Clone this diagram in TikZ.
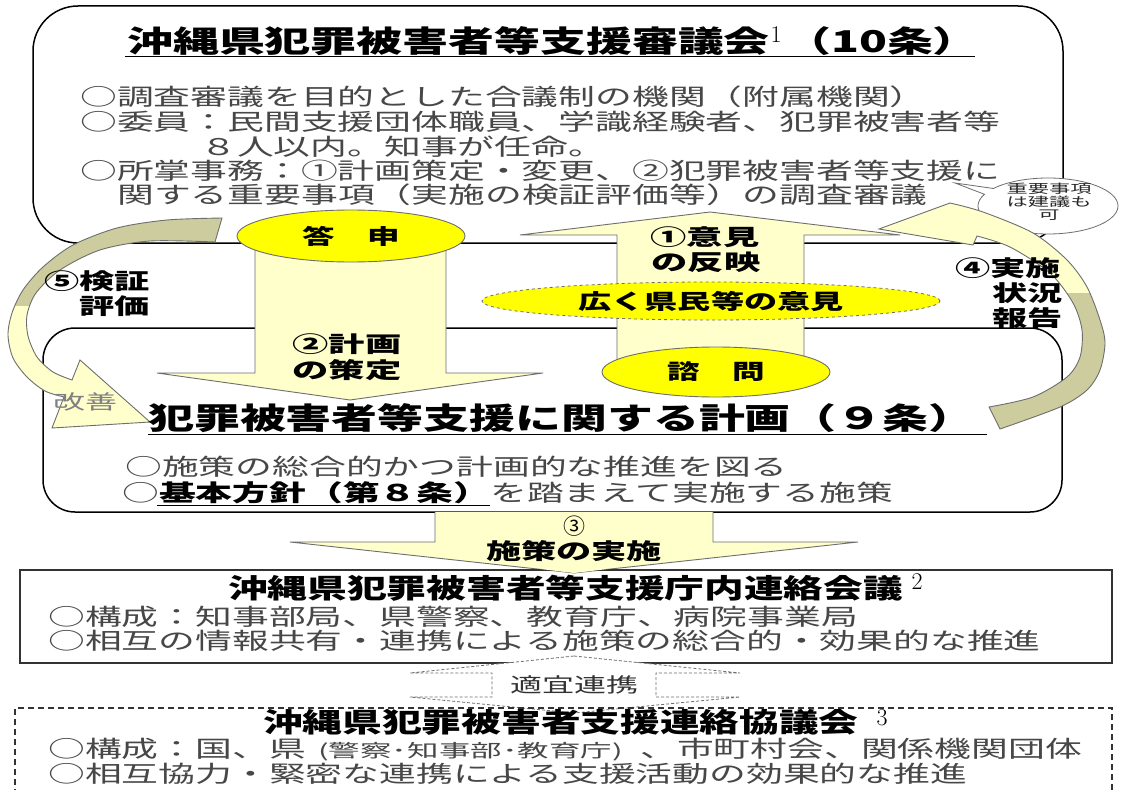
\documentclass[tikz,border=0pt]{standalone}
\usepackage{fontspec}
\usepackage{graphicx}
\newfontfamily\jp{Noto Sans CJK JP}
\usetikzlibrary{shapes.geometric,shapes.callouts}
\definecolor{ly}{RGB}{255,255,204}
\definecolor{yel}{RGB}{255,255,0}
\definecolor{khaki}{RGB}{204,204,158}
\definecolor{agray}{RGB}{110,110,110}
\newcommand\sx[2]{\scalebox{#1}[1]{#2}}
\begin{document}
\begin{tikzpicture}[x=1pt,y=-1pt,
 box/.style={draw=black, line width=1.5pt, fill=white},
 blk/.style={fill=ly, draw=agray, line width=0.9pt},
 body/.style={anchor=base west, inner sep=0pt, text=black!72, font=\jp\fontsize{23}{23}\selectfont},
 ttl/.style={anchor=base west, inner sep=0pt, font=\jp\bfseries\fontsize{30}{30}\selectfont},
 ttlb/.style={anchor=base west, inner sep=0pt, font=\jp\bfseries\fontsize{27}{27}\selectfont},
 lab/.style={inner sep=0pt, font=\jp\bfseries\fontsize{22}{22}\selectfont},
 sup/.style={inner sep=0pt, font=\rmfamily\fontsize{24}{24}\selectfont},
 yell/.style={ellipse, fill=yel, draw=agray, line width=0.9pt, inner sep=0pt, font=\jp\bfseries\fontsize{21}{21}\selectfont},
]
\useasboundingbox (0,0) rectangle (1123,789);
\fill[white] (0,0) rectangle (1123,789);

% ---- top box
\draw[box, rounded corners=45pt] (33,6) rectangle (1063,243);
\node[ellipse callout, draw=agray, fill=white, line width=0.8pt, minimum width=140pt, minimum height=56pt, inner sep=0pt, callout absolute pointer={(955,183)}, callout pointer arc=14] (call) at (1048,206) {};
\node[inner sep=0pt, font=\jp\fontsize{12.5}{14}\selectfont, align=center, text=black!85] (calltxt) at (1049,202) {\sx{1.7}{重要事項}\\[-1pt]\sx{1.7}{は建議も}\\[-1pt]\sx{1.7}{可}};

% ---- middle box
\draw[box, rounded corners=32pt] (43,328) rectangle (1062,512);

% ---- straight block arrows
\draw[blk] (255,245) -- (255,373) -- (157,373) -- (350,400) -- (543,373) -- (446,373) -- (446,245) -- cycle;
\draw[blk] (710,212) -- (900,235) -- (804,235) -- (804,365) -- (617,365) -- (617,235) -- (520,235) -- cycle;

\node[ellipse, fill=yel, draw=agray, dashed, line width=0.8pt, minimum width=458pt, minimum height=38pt, inner sep=0pt, font=\jp\bfseries\fontsize{21}{21}\selectfont] (kouku) at (711,301) {\sx{1.58}{広く県民等の意見}};
\node[yell, minimum width=228pt, minimum height=52pt] (tousin) at (351,236) {\sx{1.55}{答　申}};
\node[yell, minimum width=228pt, minimum height=50pt] (simon) at (716,372) {\sx{1.55}{諮　問}};

% ---- curved arrows
\def\LA{(222,218) -- plot[smooth] coordinates {(222,218) (167,220) (117,228) (73,245) (43,267) (23,290) (12,313) (8,335) (13,358) (27,377) (45,391) (64,397)} -- (52,428) -- (150,422) -- (80,360) -- (72,380) -- plot[smooth] coordinates {(72,380) (53,372) (37,357) (28,336) (27,315) (36,293) (60,270) (100,250) (150,241) (215,242)} -- cycle}
\def\RA{(879,229) -- (950,203) -- plot[smooth] coordinates {(950,203) (983,212) (1033,233) (1067,260) (1087,287) (1100,320) (1105,343) (1100,370) (1087,390) (1060,407) (1000,429)} -- (989,407) -- plot[smooth] coordinates {(989,407) (1033,397) (1067,377) (1080,357) (1082,330) (1073,303) (1050,273) (1010,247) (977,236)} -- (973,245) -- cycle}
\fill[khaki] \LA;
\begin{scope}\clip (0,306) rectangle (300,450); \fill[ly] \LA; \end{scope}
\draw[agray, line width=0.9pt] \LA;
\fill[ly] \RA;
\begin{scope}\clip (900,293) rectangle (1123,450); \fill[khaki] \RA; \end{scope}
\draw[agray, line width=0.9pt] \RA;

% ---- arrow labels
\node[lab] (l1a) at (705,237) {\sx{1.65}{①意見}};
\node[lab] (l1b) at (706,262) {\sx{1.65}{の反映}};
\node[lab] (l2a) at (347,344) {\sx{1.65}{②計画}};
\node[lab] (l2b) at (347,370) {\sx{1.65}{の策定}};
\node[lab, anchor=east] (l5a) at (150,281) {\sx{1.6}{⑤検証}};
\node[lab, anchor=east] (l5b) at (150,306) {\sx{1.6}{評価}};
\node[lab, anchor=west] (l4a) at (955,268) {\sx{1.6}{④実施}};
\node[lab, anchor=west] (l4b) at (992,293) {\sx{1.6}{状況}};
\node[lab, anchor=west] (l4c) at (992,318) {\sx{1.6}{報告}};
\node[inner sep=0pt, font=\jp\fontsize{20}{20}\selectfont, text=gray] (kaizen) at (85,402) {\sx{1.6}{改善}};

% ---- top box text
\node[ttl] (t0) at (127,53) {\sx{1.53}{沖縄県犯罪被害者等支援審議会}};
\node[sup] (t0s) at (776,35) {1};
\node[ttl] (t0b) at (785,53) {\sx{1.53}{（10条）}};
\draw[line width=1pt] (125,57) -- (975,57);
\node[body] (t1) at (80,106) {\sx{1.6}{○調査審議を目的とした合議制の機関（附属機関）}};
\node[body] (t2) at (80,131) {\sx{1.6}{○委員：民間支援団体職員、学識経験者、犯罪被害者等}};
\node[body] (t3) at (200,155) {\sx{1.6}{８人以内。知事が任命。}};
\node[body] (t4) at (80,179) {\sx{1.6}{○所掌事務：①計画策定・変更、②犯罪被害者等支援に}};
\node[body] (t5) at (117,203) {\sx{1.6}{関する重要事項（実施の検証評価等）の調査審議}};

% ---- middle box text
\node[ttl] (m0) at (148,429) {\sx{1.53}{犯罪被害者等支援に関する計画（９条）}};
\draw[line width=1pt] (148,434) -- (987,434);
\node[body] (m1) at (125,475) {\sx{1.6}{○施策の総合的かつ計画的な推進を図る}};
\node[body] (m2) at (122,501) {\sx{1.6}{○\textbf{\color{black}基本方針（第８条）}を踏まえて実施する施策}};
\draw[line width=1pt] (157,505) -- (490,505);

% ---- arrow 3
\fill[ly] (435,512) -- (435,542) -- (290,542) -- (574,573) -- (858,542) -- (713,542) -- (713,512) -- cycle;
\draw[agray, line width=0.9pt] (435,512) -- (435,542) -- (290,542) -- (574,573) -- (858,542) -- (713,542) -- (713,512);
\node[inner sep=0pt, font=\jp\fontsize{22}{22}\selectfont] (l3a) at (574,526) {③};
\node[lab] (l3b) at (574,551) {\sx{1.6}{施策の実施}};

% ---- box 2
\draw[line width=1.3pt, draw=black!80] (20,570) rectangle (1112,663);
\fill[ly] (540,569) -- (574,573) -- (608,569) -- cycle;
\node[ttlb] (b2t) at (228,598) {\sx{1.47}{沖縄県犯罪被害者等支援庁内連絡会議}};
\node[sup] (b2s) at (917,582) {2};
\node[body] (b21) at (48,625) {\sx{1.6}{○構成：知事部局、県警察、教育庁、病院事業局}};
\node[body] (b22) at (48,649) {\sx{1.6}{○相互の情報共有・連携による施策の総合的・効果的な推進}};

% ---- double dashed arrow
\draw[fill=white, draw=agray, line width=0.8pt, dash pattern=on 3pt off 2pt] (574,656) -- (740,673) -- (656,673) -- (656,697) -- (740,697) -- (574,713) -- (410,697) -- (492,697) -- (492,673) -- (410,673) -- cycle;
\node[inner sep=0pt, font=\jp\fontsize{20}{20}\selectfont, text=black!80] (tekigi) at (574,685) {\sx{1.6}{適宜連携}};

% ---- box 3
\draw[line width=1.1pt, draw=black!80, dash pattern=on 6pt off 4pt] (15,795) -- (15,708) -- (1112,708) -- (1112,795);
\node[ttlb] (b3t) at (263,732) {\sx{1.47}{沖縄県犯罪被害者支援連絡協議会}};
\node[sup] (b3s) at (882,718) {3};
\node[body] (b31a) at (48,757) {\sx{1.6}{○構成：国、県}};
\node[body, font=\jp\fontsize{18}{18}\selectfont] (b31b) at (318,757) {\sx{1.75}{(警察･知事部･教育庁)}};
\node[body] (b31c) at (640,757) {\sx{1.6}{、市町村会、関係機関団体}};
\node[body] (b32) at (48,782) {\sx{1.6}{○相互協力・緊密な連携による支援活動の効果的な推進}};
\end{tikzpicture}
\end{document}
